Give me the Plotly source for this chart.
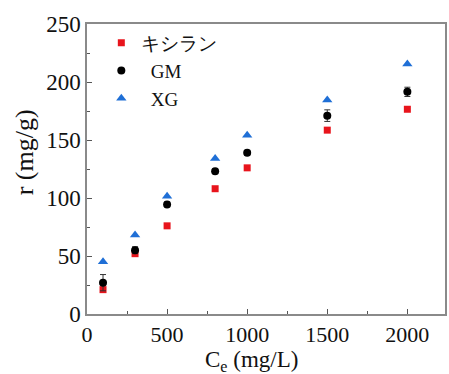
import plotly.graph_objects as go

x_vals = [100, 300, 500, 800, 1000, 1500, 2000]
xylan = [21, 52, 76, 108, 126, 158.5, 176.5]
gm = [27, 55, 94.5, 123, 139, 171, 191.5]
gm_err = [7, 3, 2, 2, 2, 5, 4]
xg = [45, 68, 101.5, 134, 154, 184.5, 215.5]

names = ["キシラン", "GM", "XG"]
x_title = "C<sub>e</sub> (mg/L)"
y_title = "r (mg/g)"

font_family = "Liberation Serif, Times New Roman, serif"

fig = go.Figure()
fig.add_trace(go.Scatter(x=x_vals, y=xylan, mode="markers", name=names[0],
                         marker=dict(symbol="square", size=7, color="#e8141c")))
fig.add_trace(go.Scatter(x=x_vals, y=gm, mode="markers", name="  " + names[1],
                         marker=dict(symbol="circle", size=8, color="#000000"),
                         error_y=dict(type="data", array=gm_err, color="#333333",
                                      thickness=1, width=3)))
fig.add_trace(go.Scatter(x=x_vals, y=xg, mode="markers", name="  " + names[2],
                         marker=dict(symbol="triangle-up", size=9, color="#1f6fd6")))

axis_common = dict(showline=True, linecolor="#8a8a8a", linewidth=1.5, mirror=True,
                   showgrid=False, zeroline=False, ticks="inside", tickcolor="#555555",
                   ticklen=5)

fig.update_layout(
    width=449, height=374,
    margin=dict(l=87, r=2, t=24, b=60),
    plot_bgcolor="white", paper_bgcolor="white",
    font=dict(family=font_family, color="#111"),
    showlegend=True,
    legend=dict(x=0.04, y=1.0, xanchor="left", yanchor="top",
                bgcolor="rgba(0,0,0,0)", font=dict(family=font_family, size=19),
                itemsizing="trace", tracegroupgap=0),
    xaxis=dict(range=[0, 2235], tickvals=[0, 500, 1000, 1500, 2000],
               tickfont=dict(family=font_family, size=22, color="#111"),
               minor=dict(tickvals=[250, 750, 1250, 1750], ticks="inside", ticklen=3,
                          tickcolor="#555555"),
               **axis_common),
    yaxis=dict(range=[0, 250], tickvals=[0, 50, 100, 150, 200, 250],
               tickfont=dict(family=font_family, size=23, color="#111"),
               minor=dict(tickvals=[25, 75, 125, 175, 225], ticks="inside", ticklen=3,
                          tickcolor="#555555"),
               **axis_common),
    annotations=[
        dict(text=x_title, xref="paper", yref="paper", x=(252 - 87) / 360, y=(314 - 361) / 290,
             xanchor="center", yanchor="middle", showarrow=False,
             font=dict(family=font_family, size=23, color="#111")),
        dict(text=y_title, xref="paper", yref="paper", x=(24 - 87) / 360, y=(314 - 152) / 290,
             xanchor="center", yanchor="middle", showarrow=False, textangle=-90,
             font=dict(family=font_family, size=26, color="#111")),
    ],
)

fig.write_html("out.html")
